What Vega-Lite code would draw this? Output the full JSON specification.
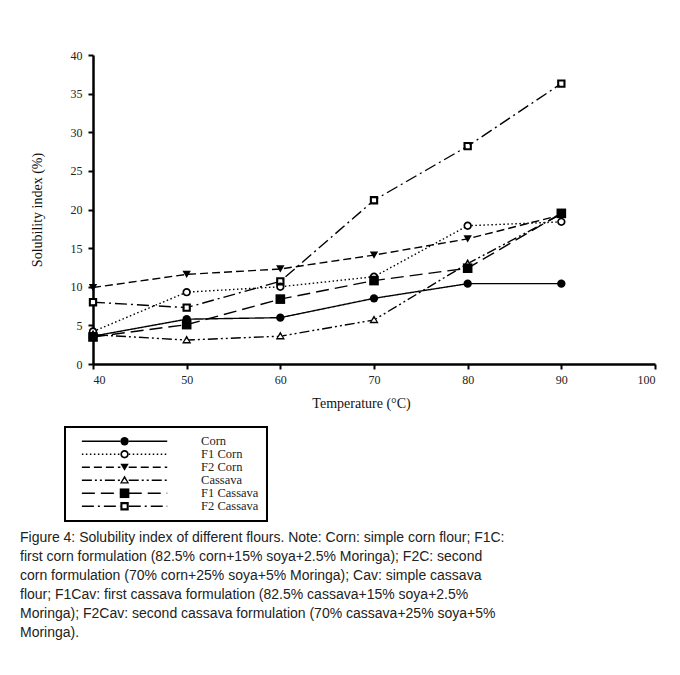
{
  "$schema": "https://vega.github.io/schema/vega-lite/v6.json",
  "width": 562,
  "height": 309,
  "autosize": {"type": "none"},
  "padding": {"left": 93, "top": 55, "right": 25, "bottom": 311},
  "background": "white",
  "config": {
    "view": {"stroke": null},
    "legend": {"strokeWidth": 2},
    "axis": {
      "grid": false,
      "domainColor": "black",
      "domainWidth": 2.5,
      "tickColor": "black",
      "tickWidth": 2,
      "tickSize": 5,
      "labelFont": "Liberation Serif",
      "labelFontSize": 12,
      "labelColor": "#222",
      "titleFont": "Liberation Serif",
      "titleFontSize": 14,
      "titleFontWeight": "normal",
      "titleColor": "#111"
    }
  },
  "title": {
    "text": [
      "Figure 4: Solubility index of different flours. Note: Corn: simple corn flour; F1C:",
      "first corn formulation (82.5% corn+15% soya+2.5% Moringa); F2C: second",
      "corn formulation (70% corn+25% soya+5% Moringa); Cav: simple cassava",
      "flour; F1Cav: first cassava formulation (82.5% cassava+15% soya+2.5%",
      "Moringa); F2Cav: second cassava formulation (70% cassava+25% soya+5%",
      "Moringa)."
    ],
    "orient": "bottom",
    "anchor": "start",
    "frame": "group",
    "dx": -73,
    "offset": 9,
    "font": "Liberation Sans",
    "fontSize": 14,
    "fontWeight": "normal",
    "lineHeight": 19,
    "color": "#222"
  },
  "data": {
    "values": [
      {"series": "Corn", "temp": 40, "value": 3.6},
      {"series": "Corn", "temp": 50, "value": 5.8},
      {"series": "Corn", "temp": 60, "value": 6.0},
      {"series": "Corn", "temp": 70, "value": 8.5},
      {"series": "Corn", "temp": 80, "value": 10.4},
      {"series": "Corn", "temp": 90, "value": 10.4},
      {"series": "F1 Corn", "temp": 40, "value": 4.2},
      {"series": "F1 Corn", "temp": 50, "value": 9.3},
      {"series": "F1 Corn", "temp": 60, "value": 10.0},
      {"series": "F1 Corn", "temp": 70, "value": 11.3},
      {"series": "F1 Corn", "temp": 80, "value": 17.9},
      {"series": "F1 Corn", "temp": 90, "value": 18.4},
      {"series": "F2 Corn", "temp": 40, "value": 9.9},
      {"series": "F2 Corn", "temp": 50, "value": 11.6},
      {"series": "F2 Corn", "temp": 60, "value": 12.3},
      {"series": "F2 Corn", "temp": 70, "value": 14.1},
      {"series": "F2 Corn", "temp": 80, "value": 16.2},
      {"series": "F2 Corn", "temp": 90, "value": 19.3},
      {"series": "Cassava", "temp": 40, "value": 3.8},
      {"series": "Cassava", "temp": 50, "value": 3.1},
      {"series": "Cassava", "temp": 60, "value": 3.6},
      {"series": "Cassava", "temp": 70, "value": 5.7},
      {"series": "Cassava", "temp": 80, "value": 13.0},
      {"series": "Cassava", "temp": 90, "value": 19.4},
      {"series": "F1 Cassava", "temp": 40, "value": 3.5},
      {"series": "F1 Cassava", "temp": 50, "value": 5.1},
      {"series": "F1 Cassava", "temp": 60, "value": 8.4},
      {"series": "F1 Cassava", "temp": 70, "value": 10.8},
      {"series": "F1 Cassava", "temp": 80, "value": 12.4},
      {"series": "F1 Cassava", "temp": 90, "value": 19.5},
      {"series": "F2 Cassava", "temp": 40, "value": 8.0},
      {"series": "F2 Cassava", "temp": 50, "value": 7.3},
      {"series": "F2 Cassava", "temp": 60, "value": 10.7},
      {"series": "F2 Cassava", "temp": 70, "value": 21.2},
      {"series": "F2 Cassava", "temp": 80, "value": 28.2},
      {"series": "F2 Cassava", "temp": 90, "value": 36.3}
    ]
  },
  "encoding": {
    "x": {
      "field": "temp",
      "type": "quantitative",
      "scale": {"domain": [40, 100], "nice": false},
      "axis": {
        "title": "Temperature (°C)",
        "values": [40, 50, 60, 70, 80, 90, 100],
        "labelPadding": 5,
        "titlePadding": 11,
        "titleX": 268
      }
    },
    "y": {
      "field": "value",
      "type": "quantitative",
      "scale": {"domain": [0, 40], "nice": false},
      "axis": {
        "title": "Solubility index (%)",
        "values": [0, 5, 10, 15, 20, 25, 30, 35, 40],
        "labelPadding": 6,
        "titlePadding": 26
      }
    }
  },
  "layer": [
    {
      "mark": {"type": "line", "color": "black", "strokeWidth": 1.4},
      "encoding": {
        "strokeDash": {
          "field": "series",
          "type": "nominal",
          "sort": null,
          "scale": {"range": [[1, 0], [1.5, 2.5], [8, 4], [10, 3, 2, 3, 2, 3], [13, 6], [12, 4, 2, 4]]},
          "legend": {
            "orient": "none",
            "legendX": -28,
            "legendY": 372,
            "title": null,
            "symbolType": "M-10.2,0L-1,0M1,0L10.2,0",
            "symbolSize": 70,
            "symbolStrokeWidth": 1.5,
            "symbolStrokeColor": "black",
            "symbolOffset": 45.3,
            "labelOffset": 70.3,
            "labelFont": "Liberation Serif",
            "labelFontSize": 12.5,
            "labelColor": "#222",
            "rowPadding": 0,
            "padding": 8,
            "strokeColor": "black"
          }
        }
      }
    },
    {
      "transform": [{"filter": {"field": "series", "oneOf": ["F1 Corn", "Cassava", "F2 Cassava"]}}],
      "mark": {"type": "point", "filled": true, "fill": "white", "shape": "circle", "size": 25, "opacity": 1}
    },
    {
      "mark": {"type": "point", "filled": true, "fill": "black", "opacity": 1, "size": 70},
      "encoding": {
        "shape": {
          "field": "series",
          "type": "nominal",
          "scale": {
            "domain": ["Corn", "F1 Corn", "F2 Corn", "Cassava", "F1 Cassava", "F2 Cassava"],
            "range": [
              "circle",
              "M1,0A1,1,0,1,1,-1,0A1,1,0,1,1,1,0ZM0.6,0A0.6,0.6,0,1,0,-0.6,0A0.6,0.6,0,1,0,0.6,0Z",
              "triangle-down",
              "M0,-1.15L1.1,0.8L-1.1,0.8ZM0,-0.4L-0.6,0.45L0.6,0.45Z",
              "M-1.15,-1.15H1.15V1.15H-1.15Z",
              "M-1,-1H1V1H-1ZM-0.5,-0.5V0.5H0.5V-0.5Z"
            ]
          },
          "legend": {
            "orient": "none",
            "legendX": -28,
            "legendY": 372,
            "title": null,
            "symbolSize": 70,
            "symbolStrokeWidth": 0,
            "symbolFillColor": "black",
            "symbolOffset": 45.3,
            "labelOffset": 70.3,
            "labelFont": "Liberation Serif",
            "labelFontSize": 12.5,
            "labelExpr": "''",
            "rowPadding": 0,
            "padding": 8
          }
        }
      }
    }
  ]
}
